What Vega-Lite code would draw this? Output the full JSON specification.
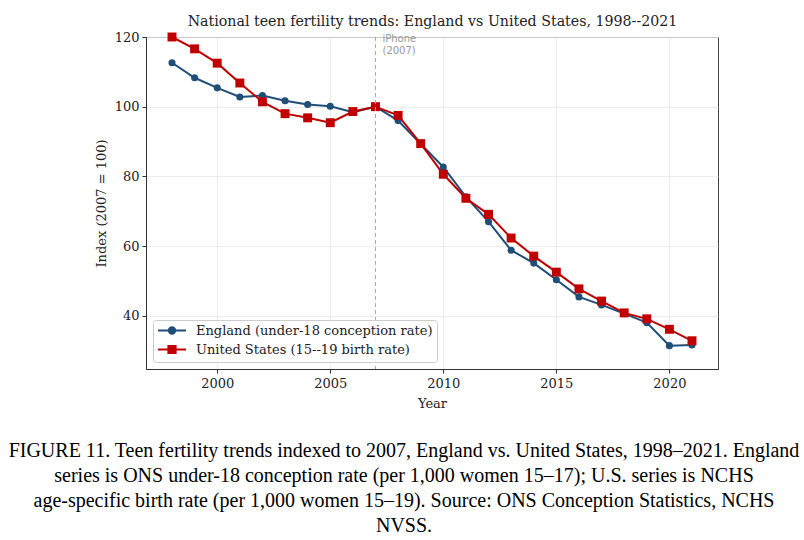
{
  "$schema": "https://vega.github.io/schema/vega-lite/v6.json",
  "autosize": {"type": "none"},
  "width": 572,
  "height": 332,
  "padding": {"left": 146, "top": 37, "right": 86, "bottom": 171},
  "background": "white",
  "datasets": {
    "trends": [
      {"year": 1998, "series": "England (under-18 conception rate)", "index": 112.6},
      {"year": 1999, "series": "England (under-18 conception rate)", "index": 108.3},
      {"year": 2000, "series": "England (under-18 conception rate)", "index": 105.4},
      {"year": 2001, "series": "England (under-18 conception rate)", "index": 102.8},
      {"year": 2002, "series": "England (under-18 conception rate)", "index": 103.2},
      {"year": 2003, "series": "England (under-18 conception rate)", "index": 101.7},
      {"year": 2004, "series": "England (under-18 conception rate)", "index": 100.6},
      {"year": 2005, "series": "England (under-18 conception rate)", "index": 100.1},
      {"year": 2006, "series": "England (under-18 conception rate)", "index": 98.4},
      {"year": 2007, "series": "England (under-18 conception rate)", "index": 100.0},
      {"year": 2008, "series": "England (under-18 conception rate)", "index": 96.0},
      {"year": 2009, "series": "England (under-18 conception rate)", "index": 89.3},
      {"year": 2010, "series": "England (under-18 conception rate)", "index": 82.7},
      {"year": 2011, "series": "England (under-18 conception rate)", "index": 74.1},
      {"year": 2012, "series": "England (under-18 conception rate)", "index": 67.0},
      {"year": 2013, "series": "England (under-18 conception rate)", "index": 58.8},
      {"year": 2014, "series": "England (under-18 conception rate)", "index": 55.1},
      {"year": 2015, "series": "England (under-18 conception rate)", "index": 50.3},
      {"year": 2016, "series": "England (under-18 conception rate)", "index": 45.4},
      {"year": 2017, "series": "England (under-18 conception rate)", "index": 43.1},
      {"year": 2018, "series": "England (under-18 conception rate)", "index": 40.6},
      {"year": 2019, "series": "England (under-18 conception rate)", "index": 38.0},
      {"year": 2020, "series": "England (under-18 conception rate)", "index": 31.4},
      {"year": 2021, "series": "England (under-18 conception rate)", "index": 31.6},
      {"year": 1998, "series": "United States (15--19 birth rate)", "index": 120.0},
      {"year": 1999, "series": "United States (15--19 birth rate)", "index": 116.6},
      {"year": 2000, "series": "United States (15--19 birth rate)", "index": 112.5},
      {"year": 2001, "series": "United States (15--19 birth rate)", "index": 106.8},
      {"year": 2002, "series": "United States (15--19 birth rate)", "index": 101.4},
      {"year": 2003, "series": "United States (15--19 birth rate)", "index": 98.0},
      {"year": 2004, "series": "United States (15--19 birth rate)", "index": 96.8},
      {"year": 2005, "series": "United States (15--19 birth rate)", "index": 95.4},
      {"year": 2006, "series": "United States (15--19 birth rate)", "index": 98.6},
      {"year": 2007, "series": "United States (15--19 birth rate)", "index": 100.0},
      {"year": 2008, "series": "United States (15--19 birth rate)", "index": 97.5},
      {"year": 2009, "series": "United States (15--19 birth rate)", "index": 89.4},
      {"year": 2010, "series": "United States (15--19 birth rate)", "index": 80.6},
      {"year": 2011, "series": "United States (15--19 birth rate)", "index": 73.7},
      {"year": 2012, "series": "United States (15--19 birth rate)", "index": 69.1},
      {"year": 2013, "series": "United States (15--19 birth rate)", "index": 62.3},
      {"year": 2014, "series": "United States (15--19 birth rate)", "index": 57.1},
      {"year": 2015, "series": "United States (15--19 birth rate)", "index": 52.5},
      {"year": 2016, "series": "United States (15--19 birth rate)", "index": 47.7},
      {"year": 2017, "series": "United States (15--19 birth rate)", "index": 44.2},
      {"year": 2018, "series": "United States (15--19 birth rate)", "index": 40.8},
      {"year": 2019, "series": "United States (15--19 birth rate)", "index": 39.1},
      {"year": 2020, "series": "United States (15--19 birth rate)", "index": 36.1},
      {"year": 2021, "series": "United States (15--19 birth rate)", "index": 32.8}
    ],
    "milestones": [
      {"year": 2007, "label": "iPhone\n(2007)"}
    ]
  },
  "title": {
    "text": [
      "FIGURE 11. Teen fertility trends indexed to 2007, England vs. United States, 1998–2021. England",
      "series is ONS under-18 conception rate (per 1,000 women 15–17); U.S. series is NCHS",
      "age-specific birth rate (per 1,000 women 15–19). Source: ONS Conception Statistics, NCHS",
      "NVSS."
    ],
    "orient": "bottom",
    "anchor": "middle",
    "frame": "group",
    "font": "Liberation Serif",
    "fontSize": 20,
    "fontWeight": "normal",
    "lineHeight": 25,
    "offset": 31,
    "dx": -28,
    "color": "black"
  },
  "resolve": {"axis": {"x": "independent"}},
  "layer": [
    {
      "layer": [
        {
          "data": {"name": "trends"},
          "mark": {"type": "line", "strokeWidth": 2},
          "encoding": {
            "x": {
              "field": "year",
              "type": "quantitative",
              "scale": {"domain": [1996.85, 2022.15], "nice": false, "zero": false},
              "axis": {"values": [2000, 2005, 2010, 2015, 2020], "format": "d", "title": "Year", "titlePadding": 7, "labelPadding": 4}
            },
            "y": {
              "field": "index",
              "type": "quantitative",
              "scale": {"domain": [24.7, 120], "nice": false, "zero": false},
              "axis": {"values": [40, 60, 80, 100, 120], "title": "Index (2007 = 100)", "titlePadding": 6, "labelPadding": 3}
            },
            "color": {
              "field": "series",
              "type": "nominal",
              "scale": {"domain": ["England (under-18 conception rate)", "United States (15--19 birth rate)"], "range": ["#1f4e79", "#c00000"]},
              "legend": {
                "title": null,
                "orient": "bottom-left",
                "offset": 7,
                "fillColor": "rgba(255,255,255,0.85)",
                "strokeColor": "#cccccc",
                "cornerRadius": 3,
                "padding": 4,
                "labelFont": "DejaVu Serif",
                "labelFontSize": 13,
                "labelColor": "#222222",
                "labelLimit": 400,
                "symbolSize": 64,
                "symbolOffset": 8.5,
                "labelOffset": 17.5,
                "rowPadding": 3,
                "encode": {
                  "symbols": {
                    "update": {
                      "shape": {"signal": "datum.value === 'England (under-18 conception rate)' ? 'M-3.5,0H3.5M0.8,0A0.8,0.8 0 1,1 -0.8,0A0.8,0.8 0 1,1 0.8,0Z' : 'M-3.5,0H3.5M-0.9,-0.9H0.9V0.9H-0.9Z'"},
                      "fill": {"signal": "datum.value === 'England (under-18 conception rate)' ? '#1f4e79' : '#c00000'"},
                      "stroke": {"signal": "datum.value === 'England (under-18 conception rate)' ? '#1f4e79' : '#c00000'"},
                      "strokeWidth": {"value": 2},
                      "opacity": {"value": 1}
                    }
                  }
                }
              }
            }
          }
        },
        {
          "data": {"name": "trends"},
          "transform": [{"filter": "datum.series === 'England (under-18 conception rate)'"}],
          "mark": {"type": "point", "shape": "circle", "filled": true, "opacity": 1, "size": 50},
          "encoding": {
            "x": {"field": "year", "type": "quantitative"},
            "y": {"field": "index", "type": "quantitative"},
            "color": {"field": "series", "type": "nominal"}
          }
        },
        {
          "data": {"name": "trends"},
          "transform": [{"filter": "datum.series === 'United States (15--19 birth rate)'"}],
          "mark": {"type": "point", "shape": "square", "filled": true, "opacity": 1, "size": 80},
          "encoding": {
            "x": {"field": "year", "type": "quantitative"},
            "y": {"field": "index", "type": "quantitative"},
            "color": {"field": "series", "type": "nominal"}
          }
        },
        {
          "data": {"name": "milestones"},
          "mark": {"type": "rule", "color": "#aaaaaa", "strokeWidth": 1, "strokeDash": [4, 3]},
          "encoding": {
            "x": {"field": "year", "type": "quantitative"}
          }
        },
        {
          "data": {"name": "milestones"},
          "mark": {"type": "text", "font": "DejaVu Sans", "fontSize": 10, "color": "#999999", "align": "left", "baseline": "top", "dx": 7, "dy": -3, "lineBreak": "\n", "lineHeight": 12},
          "encoding": {
            "x": {"field": "year", "type": "quantitative"},
            "y": {"datum": 120, "type": "quantitative"},
            "text": {"field": "label"}
          }
        }
      ]
    },
    {
      "data": {"name": "milestones"},
      "mark": {"type": "rule", "opacity": 0},
      "encoding": {
        "x": {
          "field": "year",
          "type": "quantitative",
          "axis": {
            "orient": "top",
            "title": "National teen fertility trends: England vs United States, 1998--2021",
            "titleFont": "DejaVu Serif",
            "titleFontSize": 14.2,
            "titlePadding": 9,
            "labels": false,
            "ticks": false,
            "domain": false,
            "grid": false
          }
        }
      }
    }
  ],
  "config": {
    "font": "DejaVu Serif",
    "view": {"stroke": "#444444", "strokeWidth": 1},
    "axis": {
      "labelFont": "DejaVu Serif",
      "labelFontSize": 13,
      "labelColor": "#222222",
      "titleFont": "DejaVu Serif",
      "titleFontSize": 13,
      "titleFontWeight": "normal",
      "titleColor": "#222222",
      "gridColor": "#e8e8e8",
      "gridWidth": 0.8,
      "domainColor": "#333333",
      "tickColor": "#333333",
      "tickSize": 4
    }
  }
}
